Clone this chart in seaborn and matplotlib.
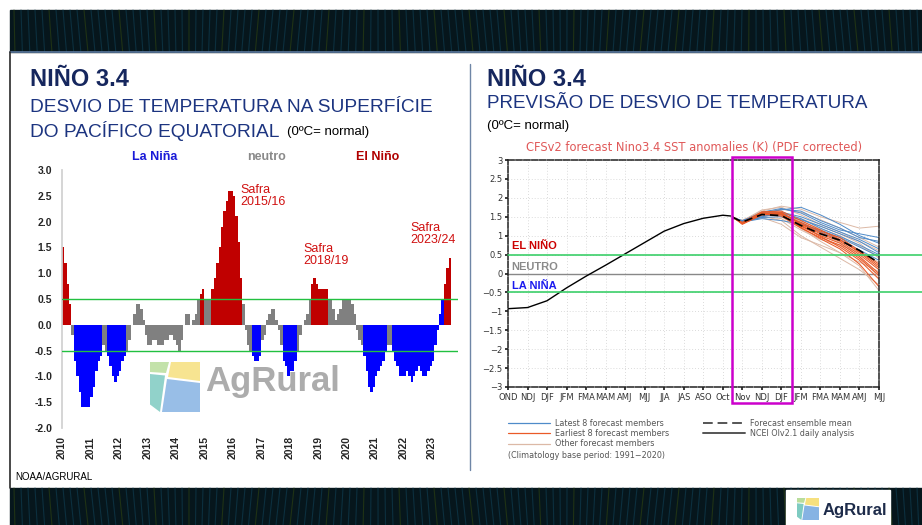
import numpy as np
import pandas as pd
import matplotlib
matplotlib.use("Agg")
import matplotlib.pyplot as plt
import seaborn as sns
from matplotlib.patches import Rectangle, Polygon

sns.set_theme(style="white")
plt.rcParams['font.family'] = ['Liberation Sans', 'DejaVu Sans']

# ---------------- data: left panel (ONI, 3-month running means) ----------------
years = list(range(2010, 2024))
oni_2010 = [1.5, 1.2, 0.8, 0.4, -0.2, -0.7, -1.0, -1.3, -1.6, -1.6, -1.6, -1.6]
oni_2011 = [-1.4, -1.2, -0.9, -0.7, -0.6, -0.4, -0.5, -0.6, -0.8, -1.0, -1.1, -1.0]
oni_2012 = [-0.9, -0.7, -0.6, -0.5, -0.3, 0.0, 0.2, 0.4, 0.4, 0.3, 0.1, -0.2]
oni_2013 = [-0.4, -0.4, -0.3, -0.3, -0.4, -0.4, -0.4, -0.3, -0.3, -0.2, -0.2, -0.3]
oni_2014 = [-0.4, -0.5, -0.3, 0.0, 0.2, 0.2, 0.0, 0.1, 0.2, 0.5, 0.6, 0.7]
oni_2015 = [0.5, 0.5, 0.5, 0.7, 0.9, 1.2, 1.5, 1.9, 2.2, 2.4, 2.6, 2.6]
oni_2016 = [2.5, 2.1, 1.6, 0.9, 0.4, -0.1, -0.4, -0.5, -0.6, -0.7, -0.7, -0.6]
oni_2017 = [-0.3, -0.2, 0.1, 0.2, 0.3, 0.3, 0.1, -0.1, -0.4, -0.7, -0.8, -1.0]
oni_2018 = [-0.9, -0.9, -0.7, -0.5, -0.2, 0.0, 0.1, 0.2, 0.5, 0.8, 0.9, 0.8]
oni_2019 = [0.7, 0.7, 0.7, 0.7, 0.5, 0.5, 0.3, 0.1, 0.2, 0.3, 0.5, 0.5]
oni_2020 = [0.5, 0.5, 0.4, 0.2, -0.1, -0.3, -0.4, -0.6, -0.9, -1.2, -1.3, -1.2]
oni_2021 = [-1.0, -0.9, -0.8, -0.7, -0.5, -0.4, -0.4, -0.5, -0.7, -0.8, -1.0, -1.0]
oni_2022 = [-1.0, -0.9, -1.0, -1.1, -1.0, -0.9, -0.8, -0.9, -1.0, -1.0, -0.9, -0.8]
oni_2023 = [-0.7, -0.4, -0.1, 0.2, 0.5, 0.8, 1.1, 1.3]
oni_values = [oni_2010, oni_2011, oni_2012, oni_2013, oni_2014, oni_2015, oni_2016,
              oni_2017, oni_2018, oni_2019, oni_2020, oni_2021, oni_2022, oni_2023]
# phase per month: R = El Niño, B = La Niña, N = neutro
phase_by_year = ["RRRRNBBBBBBB", "BBBBBNNBBBBB", "BBBNNNNNNNNN", "NNNNNNNNNNNN",
                 "NNNNNNNNNNRR", "NNNRRRRRRRRR", "RRRRNNNNBBBB", "NNNNNNNNNBBB",
                 "BBBNNNNNNRRR", "RRRRNNNNNNNN", "NNNNNNNBBBBB", "BBBBBNNBBBBB",
                 "BBBBBBBBBBBB", "BBBBBRRR"]
phase_colors = {"R": "#c00000", "B": "#0000ff", "N": "#808080"}

# ---------------- data: right panel (CFSv2) ----------------
season_labels = ["OND", "NDJ", "DJF", "JFM", "FMA", "MAM", "AMJ", "MJJ", "JJA", "JAS",
                 "ASO", "Oct", "Nov", "NDJ", "DJF", "JFM", "FMA", "MAM", "AMJ", "MJJ"]
analysis_x = [0, 1, 2, 3, 4, 5, 6, 7, 8, 9, 10, 11, 11.4]
analysis_y = [-0.93, -0.90, -0.72, -0.38, -0.07, 0.22, 0.52, 0.82, 1.12, 1.32, 1.46, 1.54, 1.52]
fc_x = [11.5, 12, 13, 14, 15, 16, 17, 18, 19]
ens_mean = [1.49, 1.36, 1.56, 1.53, 1.27, 1.05, 0.88, 0.61, 0.28]
latest8 = [
    [1.48, 1.38, 1.60, 1.68, 1.75, 1.55, 1.30, 1.00, 0.80],
    [1.48, 1.40, 1.58, 1.62, 1.50, 1.30, 1.10, 0.90, 0.65],
    [1.48, 1.36, 1.45, 1.40, 1.30, 1.15, 0.95, 0.70, 0.45],
    [1.48, 1.37, 1.55, 1.70, 1.65, 1.40, 1.20, 0.95, 0.85],
    [1.48, 1.39, 1.52, 1.55, 1.42, 1.25, 1.05, 0.85, 0.55],
    [1.48, 1.35, 1.50, 1.60, 1.45, 1.20, 0.98, 0.75, 0.50],
    [1.48, 1.38, 1.62, 1.72, 1.60, 1.35, 1.15, 1.05, 0.95],
    [1.48, 1.36, 1.48, 1.50, 1.35, 1.10, 0.90, 0.62, 0.35],
]
earliest8 = [
    [1.50, 1.32, 1.58, 1.60, 1.30, 1.05, 0.85, 0.50, 0.10],
    [1.50, 1.34, 1.60, 1.55, 1.25, 1.00, 0.80, 0.45, 0.00],
    [1.50, 1.30, 1.55, 1.58, 1.35, 1.12, 0.95, 0.60, 0.25],
    [1.50, 1.33, 1.62, 1.62, 1.28, 0.98, 0.70, 0.35, -0.15],
    [1.50, 1.31, 1.57, 1.52, 1.20, 0.95, 0.75, 0.40, -0.05],
    [1.50, 1.35, 1.63, 1.65, 1.40, 1.15, 0.90, 0.55, 0.15],
    [1.50, 1.32, 1.56, 1.57, 1.22, 0.92, 0.65, 0.25, -0.35],
    [1.50, 1.33, 1.59, 1.60, 1.32, 1.08, 0.88, 0.58, 0.20],
]
other_members = [
    [1.46, 1.40, 1.65, 1.78, 1.70, 1.50, 1.35, 1.20, 1.25],
    [1.46, 1.38, 1.55, 1.50, 1.20, 0.85, 0.55, 0.20, -0.45],
    [1.46, 1.36, 1.60, 1.62, 1.45, 1.25, 1.05, 0.80, 0.40],
    [1.46, 1.37, 1.50, 1.45, 1.15, 0.90, 0.75, 0.55, 0.30],
    [1.46, 1.39, 1.68, 1.75, 1.55, 1.30, 1.10, 0.85, 0.60],
    [1.46, 1.35, 1.52, 1.40, 1.00, 0.70, 0.40, 0.10, -0.30],
    [1.46, 1.41, 1.62, 1.70, 1.62, 1.42, 1.20, 0.95, 0.70],
    [1.46, 1.36, 1.48, 1.30, 0.95, 0.75, 0.55, 0.30, 0.05],
    [1.46, 1.38, 1.57, 1.58, 1.38, 1.18, 1.00, 0.72, 0.45],
    [1.46, 1.37, 1.54, 1.55, 1.25, 1.02, 0.82, 0.45, -0.10],
]

# ---------------- helpers (pixel -> figure fraction) ----------------
W, H = 922, 525
def fx(px): return px / W
def fy(py): return 1 - py / H
def rect(l, t, r, b): return [l / W, 1 - b / H, (r - l) / W, (b - t) / H]

fig = plt.figure(figsize=(W / 100, H / 100), dpi=100)
fig.patch.set_facecolor("white")

# ---------------- slide decoration ----------------
deco = fig.add_axes([0, 0, 1, 1], zorder=-5)
deco.set_xlim(0, W); deco.set_ylim(H, 0); deco.axis("off")
top = fig.add_axes([0, 0, 1, 1], zorder=20)
top.set_xlim(0, W); top.set_ylim(H, 0); top.axis("off"); top.patch.set_alpha(0)

for (y0, y1) in [(10, 52), (488, 525)]:
    deco.add_patch(Rectangle((10, y0), W - 10, y1 - y0, color="#06161c", zorder=0))
    for i, xx in enumerate(np.arange(14, W, 7)):
        col = "#0e3a4d" if i % 5 else "#2a3e12"
        deco.plot([xx, xx + 4 * np.sin(xx / 60.0)], [y0, y1], color=col, lw=0.8, alpha=0.7, zorder=1)
deco.plot([10, W], [52, 52], color="#5d7aa0", lw=1.2, zorder=2)
deco.plot([10, 10], [52, 488], color="#2a2a2a", lw=1.2)
deco.plot([470, 470], [64, 470], color="#6f86a6", lw=1.0)
# bottom-right logo box
deco.add_patch(Rectangle((786, 490), 104, 35, color="white", zorder=3))
def logo(axx, x0, y0, s, alpha=1.0, z=4):
    parts = [([(0, 0), (0.38, 0), (0.32, 0.22), (0, 0.2)], "#b9dd9b"),
             ([(0.42, 0), (1, 0), (1, 0.38), (0.36, 0.3)], "#f6e07e"),
             ([(0, 0.24), (0.3, 0.27), (0.2, 1.0), (0, 0.85)], "#7ecbc1"),
             ([(0.34, 0.34), (1, 0.42), (1, 1), (0.24, 1)], "#86b3e3")]
    for pts, c in parts:
        axx.add_patch(Polygon([(x0 + s * a, y0 + s * b) for a, b in pts], closed=True,
                              color=c, alpha=alpha, zorder=z, lw=0))
logo(deco, 797, 498, 22)
deco.text(823, 510, "AgRural", fontsize=12, fontweight="bold", color="#1d2b4a",
          va="center", ha="left", zorder=5)

# ---------------- titles ----------------
navy = "#16275e"
fig.text(fx(30), fy(80), "NIÑO 3.4", fontsize=17, fontweight="bold", color=navy, va="center")
fig.text(fx(30), fy(107), "DESVIO DE TEMPERATURA NA SUPERFÍCIE", fontsize=13.8, color="#1c3480", va="center")
fig.text(fx(30), fy(131), "DO PACÍFICO EQUATORIAL", fontsize=13.8, color="#1c3480", va="center")
fig.text(fx(287), fy(132), "(0ºC= normal)", fontsize=9.5, color="black", va="center")
fig.text(fx(487), fy(80), "NIÑO 3.4", fontsize=17, fontweight="bold", color=navy, va="center")
fig.text(fx(487), fy(104), "PREVISÃO DE DESVIO DE TEMPERATURA", fontsize=13.6, color="#1c3480", va="center")
fig.text(fx(487), fy(126), "(0ºC= normal)", fontsize=9.5, color="black", va="center")
fig.text(fx(15), fy(477), "NOAA/AGRURAL", fontsize=7, color="black", va="center")

# ---------------- left panel: ONI bars ----------------
rows = []
for yr, vals, ph in zip(years, oni_values, phase_by_year):
    for m, (v, p) in enumerate(zip(vals, ph)):
        rows.append({"t": round(yr + (m + 0.5) / 12, 5), "oni": v, "fase": p})
df_oni = pd.DataFrame(rows)

axL = fig.add_axes(rect(62, 170, 458, 428))
sns.barplot(data=df_oni, x="t", y="oni", hue="fase", palette=phase_colors, native_scale=True,
            width=1.0, saturation=1, linewidth=0, legend=False, ax=axL, errorbar=None)
axL.set_xlim(2010, 2010 + (458 - 62) / 28.46)
axL.set_ylim(-2.0, 3.0)
axL.axhline(0.5, color="#22c040", lw=1.0, zorder=5)
axL.axhline(-0.5, color="#22c040", lw=1.0, zorder=5)
yt = np.arange(-2.0, 3.01, 0.5)
axL.set_yticks(yt)
axL.set_yticklabels([f"{v:.1f}" for v in yt], fontsize=7.5, fontweight="bold")
axL.set_xticks(years)
axL.set_xticklabels([str(y) for y in years], rotation=90, fontsize=7.5, fontweight="bold")
axL.set_xlabel(""); axL.set_ylabel("")
for s in ["top", "right", "bottom"]:
    axL.spines[s].set_visible(False)
axL.spines["left"].set_color("#d0d0d0")
axL.tick_params(axis="y", length=3, color="#d0d0d0", pad=4)
axL.tick_params(axis="x", length=0, pad=6)
axL.patch.set_alpha(0)

# phase headers and harvest notes
fig.text(fx(155), fy(157), "La Niña", fontsize=9, fontweight="bold", color="#1a1ad8", ha="center", va="center")
fig.text(fx(266), fy(157), "neutro", fontsize=9, fontweight="bold", color="#8a8a8a", ha="center", va="center")
fig.text(fx(378), fy(157), "El Niño", fontsize=9, fontweight="bold", color="#b00000", ha="center", va="center")
red = "#d01010"
fig.text(fx(240), fy(196), "Safra\n2015/16", fontsize=9, color=red, va="center", linespacing=1.05)
fig.text(fx(303), fy(255), "Safra\n2018/19", fontsize=9, color=red, va="center", linespacing=1.05)
fig.text(fx(410), fy(234), "Safra\n2023/24", fontsize=9, color=red, va="center", linespacing=1.05)
# watermark
logo(deco, 150, 362, 50, alpha=0.85, z=-1)
deco.text(205, 381, "AgRural", fontsize=25, fontweight="bold", color="#a3a3a3", alpha=0.9,
          va="center", ha="left", zorder=-1)

# ---------------- right panel: CFSv2 forecast ----------------
axR = fig.add_axes(rect(508, 160, 879, 387))
def members_df(arrs, name):
    recs = []
    for i, a in enumerate(arrs):
        for x, v in zip(fc_x, a):
            recs.append({"x": x, "v": v, "member": f"{name}{i}"})
    return pd.DataFrame(recs)

sns.lineplot(data=members_df(other_members, "o"), x="x", y="v", units="member", estimator=None,
             color="#dcb9a6", lw=0.7, ax=axR, legend=False)
sns.lineplot(data=members_df(latest8, "l"), x="x", y="v", units="member", estimator=None,
             color="#4f8bc9", lw=0.7, ax=axR, legend=False)
sns.lineplot(data=members_df(earliest8, "e"), x="x", y="v", units="member", estimator=None,
             color="#ea5a28", lw=0.75, ax=axR, legend=False)
sns.lineplot(x=fc_x, y=ens_mean, color="black", lw=1.2, ax=axR, linestyle=(0, (5, 3)))
sns.lineplot(x=analysis_x, y=analysis_y, color="black", lw=1.0, ax=axR)

axR.axhline(0, color="#888888", lw=1.0, zorder=1)
axR.axhline(0.5, xmin=0, xmax=(922 - 508) / (879 - 508), color="#3ccf6a", lw=1.2, clip_on=False, zorder=6)
axR.axhline(-0.5, xmin=0, xmax=(922 - 508) / (879 - 508), color="#3ccf6a", lw=1.2, clip_on=False, zorder=6)
axR.set_xlim(0, 19)
axR.set_ylim(-3, 3)
axR.set_xticks(range(len(season_labels)))
axR.set_xticklabels(season_labels, fontsize=6, color="#333333", family="DejaVu Sans")
ytr = np.arange(-3, 3.01, 0.5)
axR.set_yticks(ytr)
axR.set_yticklabels([("%g" % v).replace("-", "−") for v in ytr], fontsize=6, color="#333333",
                    family="DejaVu Sans")
axR.set_xlabel(""); axR.set_ylabel("")
axR.grid(True, color="#cfcfcf", lw=0.6, linestyle=(0, (1, 2.5)))
for s in axR.spines.values():
    s.set_color("#222222"); s.set_linewidth(1.1); s.set_linestyle((0, (4, 1.2)))
axR.tick_params(axis="both", length=2.5, color="#222222", pad=1.5, direction="out")
axR.tick_params(axis="x", bottom=True)
axR.tick_params(axis="y", left=True)
axR.text(0.19, 0.72, "EL NIÑO", fontsize=8, fontweight="bold", color="#cc0000", va="center")
axR.text(0.19, 0.18, "NEUTRO", fontsize=8, fontweight="bold", color="#8a8a8a", va="center")
axR.text(0.19, -0.32, "LA NIÑA", fontsize=8, fontweight="bold", color="#1a1aee", va="center")
fig.text(fx(694), fy(148), "CFSv2 forecast Nino3.4 SST anomalies (K) (PDF corrected)",
         fontsize=8.3, color="#e05858", ha="center", va="center", family="DejaVu Sans")
# highlight box (on top of everything)
top.add_patch(Rectangle((732, 157), 60, 246, fill=False, edgecolor="#cc00cc", lw=1.8, zorder=20))

# legend (drawn in slide coordinates)
leg_items = [((508, 550), 423, "#4f8bc9", "-", 0.9, "Latest 8 forecast members"),
             ((508, 550), 433, "#ea5a28", "-", 0.9, "Earliest 8 forecast members"),
             ((508, 550), 444, "#dcb9a6", "-", 0.9, "Other forecast members"),
             ((703, 745), 423, "#555555", (0, (5, 2.5)), 1.4, "Forecast ensemble mean"),
             ((703, 745), 433, "#555555", "-", 1.4, "NCEI OIv2.1 daily analysis")]
for (x0, x1), yy, col, ls, lw, lab in leg_items:
    deco.plot([x0, x1], [yy, yy], color=col, lw=lw, linestyle=ls)
    deco.text(x1 + 5, yy, lab, fontsize=5.8, color="#555555", va="center", family="DejaVu Sans")
deco.text(508, 456, "(Climatology base period: 1991−2020)", fontsize=5.8, color="#555555",
          va="center", family="DejaVu Sans")

fig.savefig("out.png", dpi=100)
